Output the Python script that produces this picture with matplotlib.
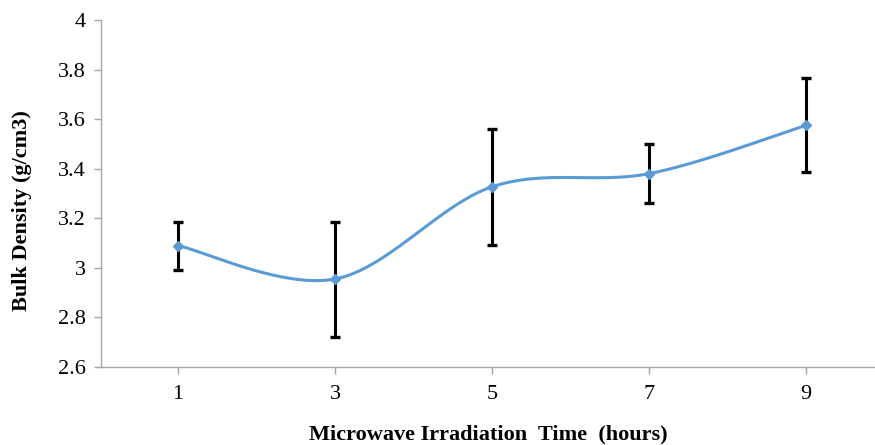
import numpy as np
import matplotlib.pyplot as plt

plt.rcParams['font.family'] = ['Liberation Serif', 'DejaVu Serif']

# values
hours = ['1', '3', '5', '7', '9']
density = [3.09, 2.955, 3.327, 3.38, 3.575]
errLow = [0.10, 0.235, 0.235, 0.12, 0.19]
errHigh = [0.095, 0.23, 0.235, 0.12, 0.19]


def excelSmooth(x, y, steps=40):
    # catmull-rom style bezier like the excel "smoothed line" option
    x = np.asarray(x, float)
    y = np.asarray(y, float)
    px = np.concatenate([[x[0]], x, [x[-1]]])
    py = np.concatenate([[y[0]], y, [y[-1]]])
    outX, outY = [], []
    t = np.linspace(0, 1, steps)
    for i in range(1, len(x)):
        p0 = np.array([px[i], py[i]])
        p3 = np.array([px[i + 1], py[i + 1]])
        c1 = p0 + (p3 - np.array([px[i - 1], py[i - 1]])) / 6
        c2 = p3 - (np.array([px[i + 2], py[i + 2]]) - p0) / 6
        b = ((1 - t) ** 3)[:, None] * p0 + (3 * (1 - t) ** 2 * t)[:, None] * c1 \
            + (3 * (1 - t) * t ** 2)[:, None] * c2 + (t ** 3)[:, None] * p3
        outX.extend(b[:, 0])
        outY.extend(b[:, 1])
    return np.array(outX), np.array(outY)


pos = np.arange(len(hours))
smoothX, smoothY = excelSmooth(pos, density)

fig = plt.figure(figsize=(8.75, 4.45), dpi=100)
ax = fig.add_axes([101 / 875, 1 - 367 / 445, 1 - 101 / 875, (367 - 20) / 445])

ax.plot(smoothX, smoothY, color='#5B9BD5', linewidth=2.2, zorder=3)
ax.plot(pos, density, linestyle='none', marker='D', markersize=5.5,
        color='#5B9BD5', zorder=4)
ax.errorbar(pos, density, yerr=[errLow, errHigh], fmt='none', ecolor='black',
            elinewidth=2.2, capsize=3.5, capthick=2.4, zorder=2)

ax.set_ylim(2.6, 4.0)
ax.set_yticks(np.arange(2.6, 4.01, 0.2))
ax.set_yticklabels(['2.6', '2.8', '3', '3.2', '3.4', '3.6', '3.8', '4'])
ax.set_xlim(-0.49, (875 - 178) / 157)
ax.set_xticks(pos)
ax.set_xticklabels(hours)

for side in ['top', 'right']:
    ax.spines[side].set_visible(False)
for side in ['left', 'bottom']:
    ax.spines[side].set_color('#A6A6A6')
    ax.spines[side].set_linewidth(1.0)
ax.tick_params(axis='both', colors='#A6A6A6', length=5, width=1.0,
               labelcolor='black', labelsize=16)
ax.tick_params(axis='y', pad=6)
ax.tick_params(axis='x', pad=8)

fig.text(488 / 875, 1 - 439 / 445, 'Microwave Irradiation  Time  (hours)',
         ha='center', va='baseline', fontsize=16, fontweight='bold')
fig.text(22 / 875, 1 - 211 / 445, 'Bulk Density (g/cm3)', rotation=90,
         ha='center', va='center', fontsize=16, fontweight='bold')

fig.savefig('out.png', dpi=100)
